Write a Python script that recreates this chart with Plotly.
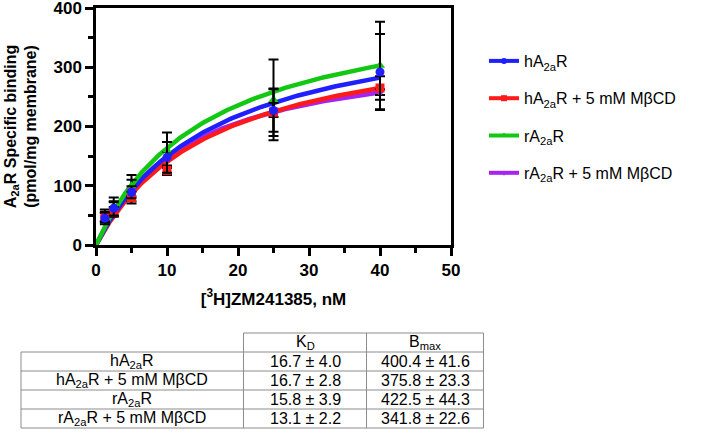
import numpy as np
import plotly.graph_objects as go

# ---------------- data ----------------
conc = [1.25, 2.5, 5, 10, 25, 40]  # nM

names = ["hA<sub>2a</sub>R", "hA<sub>2a</sub>R + 5 mM MβCD",
         "rA<sub>2a</sub>R", "rA<sub>2a</sub>R + 5 mM MβCD"]

h_mean = [45, 62, 89, 148, 227, 292]
h_err = [10, 12, 10, 26, 36, 64]
hm_mean = [48, 56, 80, 126, 224, 265]
hm_err = [8, 8, 10, 8, 40, 20]
r_mean = [50, 65, 100, 160, 245, 303]
r_err = [10, 15, 18, 30, 68, 74]
rm_mean = [46, 60, 92, 145, 228, 258]
rm_err = [8, 12, 18, 12, 12, 5]

# fitted one-site binding parameters (table)
kd = [16.7, 16.7, 15.8, 13.1]
kd_sd = [4.0, 2.8, 3.9, 2.2]
bmax = [400.4, 375.8, 422.5, 341.8]
bmax_sd = [41.6, 23.3, 44.3, 22.6]

table_header = ["", "K<sub>D</sub>", "B<sub>max</sub>"]

colors = ["#1f1fff", "#ff1a1a", "#12c812", "#a424f0"]
symbols = ["circle", "square", "triangle-up", "triangle-down"]
means = [h_mean, hm_mean, r_mean, rm_mean]
errs = [h_err, hm_err, r_err, rm_err]

FONT = "Liberation Sans, Arial, sans-serif"

fig = go.Figure()

# fitted curves (one-site specific binding: B = Bmax*x/(KD+x))
xfit = np.linspace(0, 40, 200)
for i in [3, 1, 0, 2]:
    fig.add_trace(go.Scatter(
        x=xfit, y=bmax[i] * xfit / (kd[i] + xfit), mode="lines",
        line=dict(color=colors[i], width=4.5), showlegend=False,
        hoverinfo="skip"))

# data points with error bars
for i in [3, 2, 1, 0]:
    fig.add_trace(go.Scatter(
        x=conc, y=means[i], mode="markers",
        marker=dict(color=colors[i], symbol=symbols[i], size=9),
        error_y=dict(type="data", array=errs[i], color="black",
                     thickness=2, width=5),
        showlegend=False))

# legend entries
for i in range(4):
    fig.add_trace(go.Scatter(
        x=[None], y=[None], mode="lines+markers", name=names[i],
        legendgroup=str(i),
        line=dict(color=colors[i], width=4),
        marker=dict(color=colors[i], symbol=symbols[i], size=6)))

# ---------------- geometry helpers (plot area pixels) ----------------
L, R, T, B = 96, 451, 8, 245
W, H = 711, 446


def px(x):
    return (x - L) / (R - L)


def py(y):
    return (B - y) / (B - T)


# ---------------- table ----------------
col_edges = [21, 243.5, 366.5, 483.5]
row_edges = [333, 352, 371, 390, 409, 428]
line_col = "#8c8c8c"
shapes = []
# horizontal lines
for j, yy in enumerate(row_edges):
    x0 = col_edges[1] if j == 0 else col_edges[0]
    shapes.append(dict(type="line", xref="paper", yref="paper",
                       x0=px(x0), x1=px(col_edges[-1]), y0=py(yy), y1=py(yy),
                       line=dict(color=line_col, width=1)))
# vertical lines
for k, xx in enumerate(col_edges):
    y0 = row_edges[1] if k == 0 else row_edges[0]
    shapes.append(dict(type="line", xref="paper", yref="paper",
                       x0=px(xx), x1=px(xx), y0=py(y0), y1=py(row_edges[-1]),
                       line=dict(color=line_col, width=1)))

annotations = []
col_centers = [(col_edges[k] + col_edges[k + 1]) / 2 for k in range(3)]
row_centers = [(row_edges[j] + row_edges[j + 1]) / 2 for j in range(5)]
tfont = dict(size=16, family=FONT, color="black")
for k in range(1, 3):
    annotations.append(dict(text=table_header[k], x=px(col_centers[k]),
                            y=py(row_centers[0]), xref="paper", yref="paper",
                            xanchor="center", yanchor="middle",
                            showarrow=False, font=tfont))
for j in range(4):
    cells = [names[j], f"{kd[j]:.1f} ± {kd_sd[j]:.1f}", f"{bmax[j]:.1f} ± {bmax_sd[j]:.1f}"]
    for k in range(3):
        annotations.append(dict(text=cells[k], x=px(col_centers[k]),
                                y=py(row_centers[j + 1]), xref="paper", yref="paper",
                                xanchor="center", yanchor="middle",
                                showarrow=False, font=tfont))

axis_common = dict(showline=True, linewidth=2.5, linecolor="black", mirror=True,
                   ticks="outside", ticklen=8, tickwidth=2.5, tickcolor="black",
                   showgrid=False, zeroline=False, automargin=False,
                   ticklabeloverflow="allow",
                   tickfont=dict(size=17, family=FONT, color="black", weight="bold"))

fig.update_layout(
    width=W, height=H,
    margin=dict(l=L, r=W - R, t=T, b=H - B, autoexpand=False),
    plot_bgcolor="white", paper_bgcolor="white",
    font=dict(family=FONT, color="black"),
    xaxis=dict(range=[0, 50], tickvals=[0, 10, 20, 30, 40, 50],
               minor=dict(tickvals=[5, 15, 25, 35, 45], ticks="outside", ticklen=5,
                          tickwidth=2.5, tickcolor="black"),
               title=dict(text="[<sup>3</sup>H]ZM241385, nM", standoff=14,
                          font=dict(size=17, family=FONT, color="black", weight="bold")),
               **axis_common),
    yaxis=dict(range=[0, 400], tickvals=[0, 100, 200, 300, 400],
               minor=dict(tickvals=[50, 150, 250, 350], ticks="outside", ticklen=5,
                          tickwidth=2.5, tickcolor="black"),
               title=dict(text="A<sub>2a</sub>R Specific binding<br>(pmol/mg membrane)",
                          standoff=13,
                          font=dict(size=16, family=FONT, color="black", weight="bold")),
               **axis_common),
    legend=dict(x=px(484), y=py(44), xanchor="left", yanchor="top",
                font=dict(size=16, family=FONT, color="black"),
                tracegroupgap=13.5, bgcolor="rgba(0,0,0,0)"),
    shapes=shapes,
    annotations=annotations,
)

fig.write_html("out.html", config={"displayModeBar": False},
               post_script="document.body.style.margin='0';")
